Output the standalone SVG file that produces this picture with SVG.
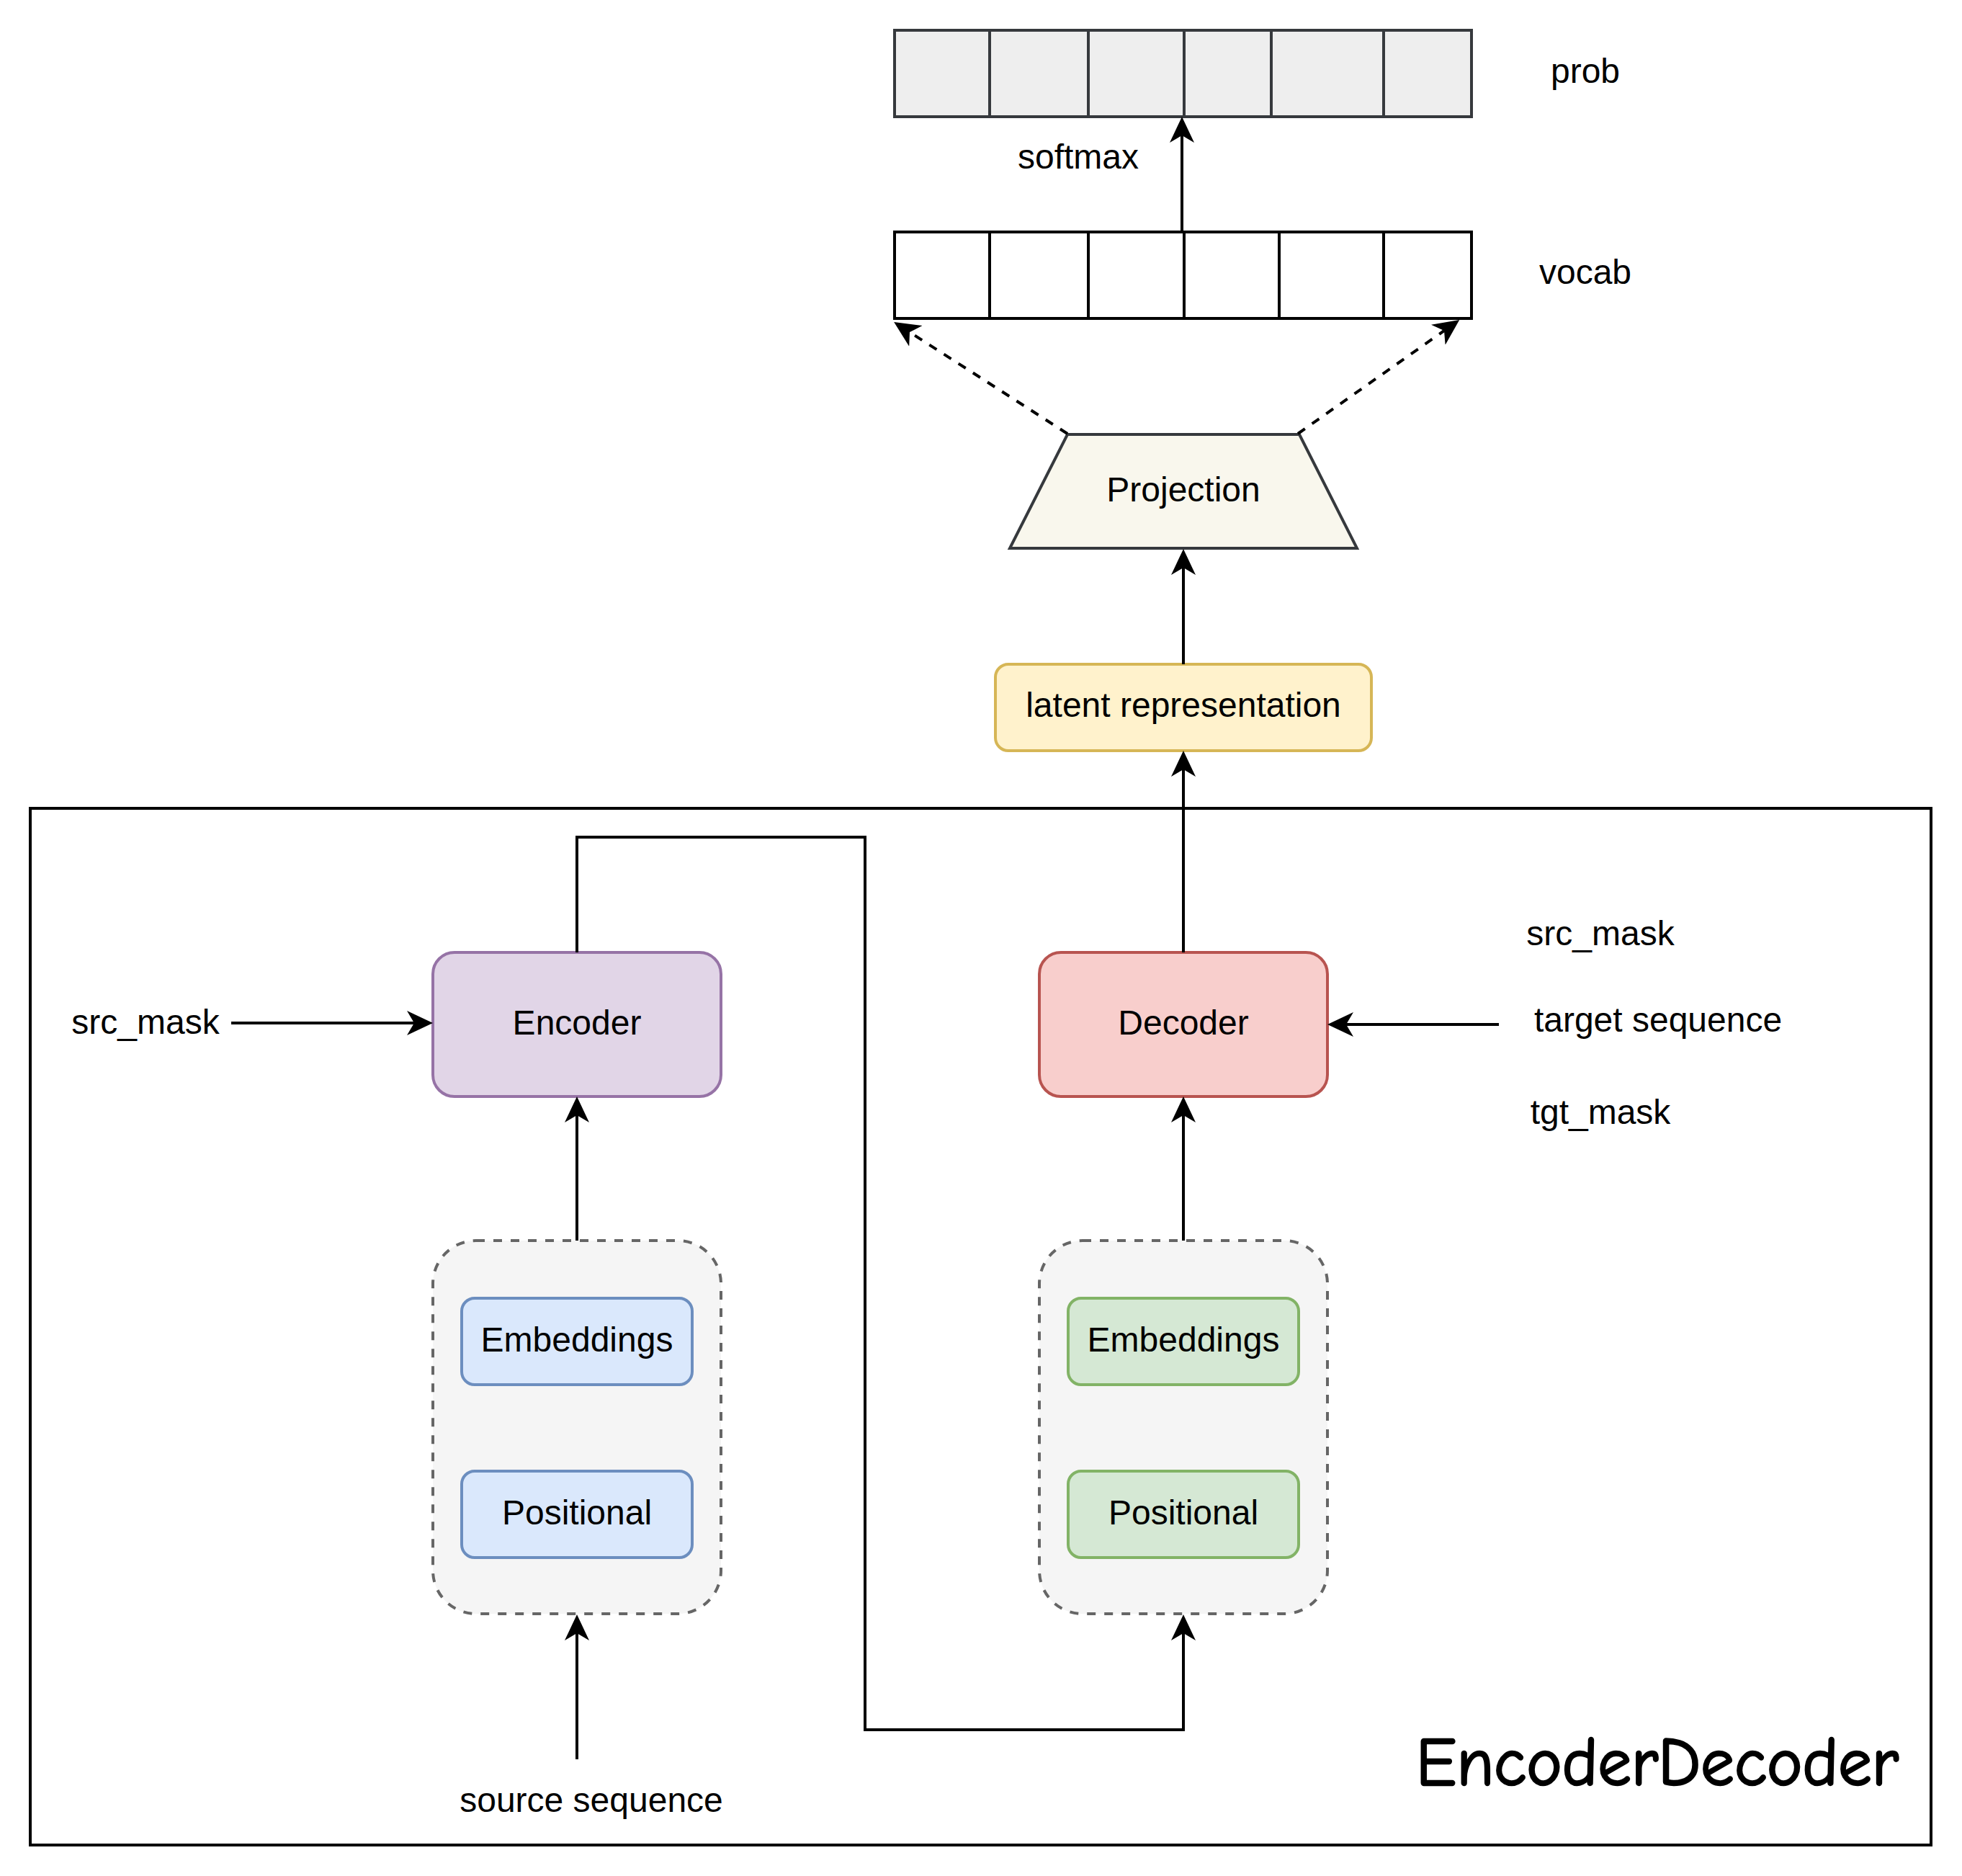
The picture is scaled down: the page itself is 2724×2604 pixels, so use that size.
<svg xmlns="http://www.w3.org/2000/svg" width="2724" height="2604" viewBox="0 0 2724 2604">
<style>
text{font-family:"Liberation Sans",Arial,sans-serif;font-size:48px;fill:#000;text-anchor:middle}
.title{font-family:"Comic Sans MS","Comic Neue","Open Sans",sans-serif;font-size:96px;stroke:#000;stroke-width:2.5}
.conn{fill:none;stroke:#000;stroke-width:4}
.dash{stroke-dasharray:12 12}
</style>
<defs>
<marker id="arr" viewBox="0 -18 37 36" markerWidth="37" markerHeight="36" markerUnits="userSpaceOnUse" refX="10" refY="0" orient="auto">
<path d="M0,-17 L36,0 L0,17 L10,0 Z" fill="#000"/>
</marker>
</defs>
<rect width="2724" height="2604" fill="#fff"/>

<g id="container">
<rect x="42" y="1122" width="2639" height="1439" fill="none" stroke="#000" stroke-width="4"/>
<text class="title" x="2301" y="2478" textLength="670" lengthAdjust="spacingAndGlyphs">EncoderDecoder</text>
</g>

<g id="prob">
<rect x="1242" y="42" width="801" height="120" fill="#eeeeee" stroke="#36393d" stroke-width="4"/>
<path d="M1374,42V162M1511,42V162M1644,42V162M1765,42V162M1921,42V162" stroke="#36393d" stroke-width="4"/>
</g>
<g id="vocab">
<rect x="1242" y="322" width="801" height="120" fill="#fff" stroke="#000" stroke-width="4"/>
<path d="M1374,322V442M1511,322V442M1644,322V442M1776,322V442M1921,322V442" stroke="#000" stroke-width="4"/>
</g>
<g id="labels-top">
<text x="2201" y="115">prob</text>
<text x="1497" y="234">softmax</text>
<text x="2201" y="394">vocab</text>
</g>

<g id="projection">
<polygon points="1482,603 1804,603 1884,761 1402,761" fill="#f9f7ed" stroke="#36393d" stroke-width="4"/>
<text x="1643" y="696">Projection</text>
</g>

<g id="latent">
<rect x="1382" y="922" width="522" height="120" rx="18" fill="#fff2cc" stroke="#d6b656" stroke-width="4"/>
<text x="1643" y="995">latent representation</text>
</g>

<g id="encoder">
<rect x="601" y="1322" width="400" height="200" rx="30" fill="#e1d5e7" stroke="#9673a6" stroke-width="4"/>
<text x="801" y="1436">Encoder</text>
</g>

<g id="decoder">
<rect x="1443" y="1322" width="400" height="200" rx="30" fill="#f8cecc" stroke="#b85450" stroke-width="4"/>
<text x="1643" y="1436">Decoder</text>
</g>

<g id="src-embed-group">
<rect x="601" y="1722" width="400" height="518" rx="60" fill="#f5f5f5" stroke="#666666" stroke-width="4" stroke-dasharray="12 12"/>
</g>
<g id="src-embeddings">
<rect x="641" y="1802" width="320" height="120" rx="18" fill="#dae8fc" stroke="#6c8ebf" stroke-width="4"/>
<text x="801" y="1876">Embeddings</text>
</g>
<g id="src-positional">
<rect x="641" y="2042" width="320" height="120" rx="18" fill="#dae8fc" stroke="#6c8ebf" stroke-width="4"/>
<text x="801" y="2116">Positional</text>
</g>

<g id="tgt-embed-group">
<rect x="1443" y="1722" width="400" height="518" rx="60" fill="#f5f5f5" stroke="#666666" stroke-width="4" stroke-dasharray="12 12"/>
</g>
<g id="tgt-embeddings">
<rect x="1483" y="1802" width="320" height="120" rx="18" fill="#d5e8d4" stroke="#82b366" stroke-width="4"/>
<text x="1643" y="1876">Embeddings</text>
</g>
<g id="tgt-positional">
<rect x="1483" y="2042" width="320" height="120" rx="18" fill="#d5e8d4" stroke="#82b366" stroke-width="4"/>
<text x="1643" y="2116">Positional</text>
</g>

<g id="labels">
<text x="202" y="1435">src_mask</text>
<text x="2222" y="1312">src_mask</text>
<text x="2302" y="1432">target sequence</text>
<text x="2222" y="1560">tgt_mask</text>
<text x="821" y="2515">source sequence</text>
</g>

<g id="connectors">
<path class="conn" d="M1641,322V188" marker-end="url(#arr)"/>
<path class="conn dash" d="M1482,602L1263,461" marker-end="url(#arr)"/>
<path class="conn dash" d="M1802,602L2005,459" marker-end="url(#arr)"/>
<path class="conn" d="M1643,922V788" marker-end="url(#arr)"/>
<path class="conn" d="M1643,1322V1068" marker-end="url(#arr)"/>
<path class="conn" d="M1643,1722V1548" marker-end="url(#arr)"/>
<path class="conn" d="M801,1722V1548" marker-end="url(#arr)"/>
<path class="conn" d="M801,2442V2267" marker-end="url(#arr)"/>
<path class="conn" d="M801,1322V1162H1201V2401H1643V2267" marker-end="url(#arr)"/>
<path class="conn" d="M321,1420H575" marker-end="url(#arr)"/>
<path class="conn" d="M2081,1422H1869" marker-end="url(#arr)"/>
</g>
</svg>
